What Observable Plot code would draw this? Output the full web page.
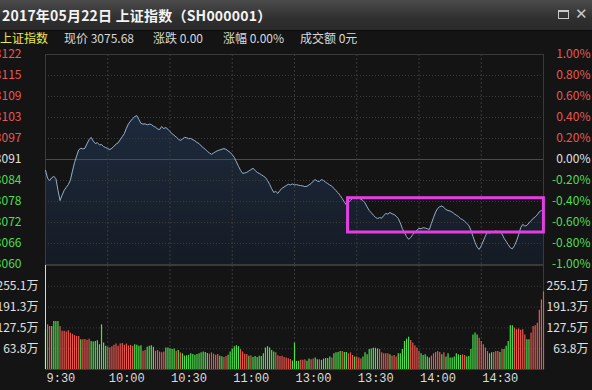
<!DOCTYPE html>
<html><head><meta charset="utf-8">
<script src="https://cdn.jsdelivr.net/npm/d3@7"></script>
<script src="https://cdn.jsdelivr.net/npm/@observablehq/plot@0.6"></script>
<style>
html,body{margin:0;padding:0;background:#141414;}
#wrap{position:relative;width:592px;height:390px;overflow:hidden;background:#141414;font-family:"Noto Sans CJK SC",sans-serif;}
#titlebar{position:absolute;left:0;top:0;width:592px;height:30px;background:linear-gradient(#4b4b4b,#303030 60%,#2a2a2a);border-bottom:1px solid #0a0a0a;}
#title{position:absolute;left:2px;top:4px;font-size:14px;font-weight:bold;color:#f4f4f4;line-height:22px;white-space:nowrap;letter-spacing:0.2px;}
.ic{position:absolute;top:10px;width:9px;height:6px;border:1px solid #c8c8c8;border-top-width:2px;}
.xx{position:absolute;top:5px;left:575px;color:#c8c8c8;font-size:15px;line-height:18px;font-family:"DejaVu Sans",sans-serif;}
#info span{position:absolute;top:30px;font-size:12px;line-height:16px;color:#d8d8d8;white-space:nowrap;}
#price{position:absolute;left:0;top:47px;}
#vol{position:absolute;left:0;top:265px;}
</style></head>
<body>
<div id="wrap">
  <div id="titlebar">
    <div id="title">2017年05月22日 上证指数（SH000001）</div>
    <div class="ic" style="left:558px"></div>
    <div class="xx">✕</div>
  </div>
  <div id="info">
    <span style="left:0;color:#e8e84c">上证指数</span>
    <span style="left:64px">现价 3075.68</span>
    <span style="left:153px">涨跌 0.00</span>
    <span style="left:223px">涨幅 0.00%</span>
    <span style="left:300px">成交额 0元</span>
  </div>
  <div id="price"></div>
  <div id="vol"></div>
</div>
<script>
// ---- data ----
const prevClose = 3090.99;
const prices = [
3087.8,3085.5,3084.8,3085.6,3086.0,3085.4,3082.0,3078.9,3080.5,3081.9,
3082.8,3083.6,3084.9,3087.6,3090.1,3092.0,3093.8,3094.3,3094.1,3094.3,
3095.6,3096.8,3097.5,3096.4,3095.7,3095.9,3095.3,3095.4,3094.8,3094.5,
3094.2,3093.9,3094.3,3094.9,3095.5,3095.9,3096.8,3097.7,3098.6,3100.2,
3101.5,3102.3,3103.0,3103.6,3103.9,3102.8,3101.6,3101.4,3101.5,3101.2,
3101.4,3101.3,3100.8,3100.5,3100.0,3099.8,3100.7,3100.1,3100.4,3099.9,
3099.2,3098.6,3098.1,3097.6,3097.0,3096.6,3097.0,3097.5,3097.4,3097.1,
3097.2,3096.8,3096.5,3096.0,3095.7,3095.0,3094.5,3094.0,3093.4,3092.9,
3092.5,3092.9,3093.3,3093.6,3093.8,3094.0,3094.2,3094.0,3093.5,3093.1,
3092.4,3091.6,3090.3,3089.0,3087.8,3086.9,3087.0,3087.2,3087.6,3088.0,
3088.4,3087.8,3087.2,3086.9,3086.5,3086.1,3085.7,3084.8,3083.7,3082.4,
3081.3,3081.6,3081.0,3081.9,3082.5,3082.9,3083.3,3083.7,3083.5,3083.8,
3083.5,3083.6,3083.4,3083.3,3083.2,3083.0,3083.1,3083.5,3083.9,3084.6,
3085.1,3084.6,3084.5,3085.1,3084.8,3084.3,3083.9,3083.5,3083.1,3082.5,
3081.8,3081.2,3080.4,3079.5,3078.5,3077.6,3078.3,3079.0,3079.5,3079.7,
3079.8,3079.6,3079.3,3078.9,3078.2,3077.0,3076.0,3075.3,3074.6,3074.0,
3073.6,3073.9,3073.7,3074.5,3075.1,3074.9,3075.4,3075.0,3074.8,3074.3,
3073.6,3072.3,3070.6,3069.5,3068.3,3067.5,3068.0,3068.9,3069.6,3070.2,
3070.7,3070.6,3070.9,3070.8,3070.6,3070.4,3072.2,3073.9,3075.5,3076.6,
3077.1,3077.3,3076.9,3076.2,3076.0,3075.8,3075.5,3075.0,3074.6,3074.2,
3073.6,3073.3,3072.8,3072.2,3071.6,3070.2,3068.4,3066.6,3065.2,3064.5,
3065.6,3067.0,3068.5,3069.6,3069.3,3069.8,3069.5,3070.0,3069.6,3069.9,
3069.1,3067.8,3066.9,3065.9,3065.0,3064.7,3065.6,3067.0,3068.8,3070.9,
3071.9,3071.4,3071.6,3072.3,3073.0,3073.6,3074.1,3074.7,3075.6,3076.0,
3075.68];
// volume in 万
const volumes = [
122,137,132,132,147,147,147,132,117,117,
115,119,111,108,104,101,101,91,91,92,
90,93,86,84,86,88,76,137,81,71,
68,66,70,74,78,71,78,80,74,78,
72,74,71,76,74,71,73,56,58,68,
71,73,68,56,58,54,51,54,66,66,
64,61,63,56,58,51,48,41,42,44,
48,46,44,46,48,51,54,52,49,47,
51,47,44,46,41,39,37,40,44,54,
63,70,73,70,61,54,47,46,41,42,
37,40,37,41,40,48,66,70,66,58,
54,51,42,40,41,37,35,33,31,26,
81,25,25,28,28,30,25,32,30,32,
35,30,30,28,32,34,34,38,35,48,
51,52,55,55,52,52,48,51,43,38,
38,35,32,38,51,45,61,63,65,65,
63,61,51,48,48,48,45,41,43,38,
48,48,61,86,93,99,89,81,73,66,
55,48,43,45,38,35,41,48,52,55,
52,45,51,38,48,35,35,38,48,45,
43,45,43,38,40,61,106,112,106,96,
86,76,66,55,48,51,52,55,55,52,
61,61,71,86,134,134,127,122,124,120,
122,106,91,91,112,132,134,142,182,213,
238];
// R = up (red), G = down (green)
const volDirs = (
"GRRGGGGRRR"+"RRRRRRRGRR"+"RRGGGGGGGG"+"RRRRRRRRRR"+"RRRGGGGRRG"+"GGGRRRRRGG"+
"GGGRGRGGGG"+"GGGGGGGGGR"+"RRRRGGRRGG"+"GGGGRRRRGR"+"GGGGGGGGGG"+"GRRRRRRRRG"+
"GGGRRRGGRR"+"GGRGGGGGRG"+"GGGRGGRRRG"+"RRRGGGGGGG"+"GRRRRRGRRR"+"GGGGGGRRRR"+
"RGGGGGRRRR"+"RGRGGGGGGG"+"GRRGGGGGGR"+"RRRRGGRRRG"+"RGGGGGRRRR"+"RRGGRRRRRR"+"R").split("");

const pctTicks = [1,0.8,0.6,0.4,0.2,0,-0.2,-0.4,-0.6,-0.8,-1];
const priceLabels = ["3122","3115","3109","3103","3097","3091","3084","3078","3072","3066","3060"];
const pctLabels = ["1.00%","0.80%","0.60%","0.40%","0.20%","0.00%","-0.20%","-0.40%","-0.60%","-0.80%","-1.00%"];
const volTicks = [255.1,191.3,127.5,63.8];
const volLabels = ["255.1万","191.3万","127.5万","63.8万"];
const volMax = 318.9;
const timeTicks = [0,30,60,90,120,150,180,210];
const timeLabels = ["9:30","10:00","10:30","11:00","13:00","13:30","14:00","14:30"];
// highlight box (annotation): minute range and price range
const boxMinutes = [145.8, 240.2];
const boxPrices = [3079.6, 3069.5];

// ---- chart ----
const RED = "#e85850", GREEN = "#4ede4e", WHITE = "#e0e0e0";
const GRID = "#3a3a3a";
const yOf = p => prevClose * (1 + p / 100);
const tickColor = p => p > 0 ? RED : p < 0 ? GREEN : WHITE;
const priceData = prices.map((p, i) => ({m: i, p}));
const volData = volumes.map((v, i) => ({m: i, v, up: volDirs[i] === "R"}));
const font = "'Noto Sans CJK SC', sans-serif";

const priceSvg = Plot.plot({
  width: 592, height: 219, marginTop: 7, marginBottom: 2, marginLeft: 45, marginRight: 49,
  x: {domain: [0, 240], axis: null},
  y: {domain: [yOf(-1), yOf(1)], axis: null},
  color: {type: "identity"},
  style: {background: "transparent", fontFamily: font, fontSize: "12px", overflow: "visible"},
  marks: [
    Plot.areaY(priceData, {x: "m", y1: yOf(-1), y2: "p", fill: "url(#pgrad)"}),
    Plot.ruleY(pctTicks.filter(p => p !== 0 && Math.abs(p) !== 1), {y: d => yOf(d), stroke: GRID, strokeDasharray: "1,2"}),
    Plot.ruleY([0], {y: d => yOf(d), stroke: "#4c4c4c"}),
    Plot.ruleX(timeTicks.slice(1), {x: d => d, stroke: GRID, strokeDasharray: "2,2"}),
    Plot.frame({stroke: GRID}),
    Plot.line(priceData, {x: "m", y: "p", stroke: "#92adc8", strokeWidth: 1}),
    Plot.rect([{x1: boxMinutes[0], x2: boxMinutes[1], y1: boxPrices[0], y2: boxPrices[1]}],
      {x1: "x1", x2: "x2", y1: "y1", y2: "y2", fill: "none", stroke: "#e23ee2", strokeWidth: 3}),
    Plot.text(pctTicks, {y: d => yOf(d), text: (d, i) => priceLabels[i], frameAnchor: "left", textAnchor: "end", dx: -24, fill: d => tickColor(d)}),
    Plot.text(pctTicks, {y: d => yOf(d), text: (d, i) => pctLabels[i], frameAnchor: "right", textAnchor: "end", dx: 47, fill: d => tickColor(d)})
  ]
});
const ns = "http://www.w3.org/2000/svg";
const defs = document.createElementNS(ns, "defs");
defs.innerHTML = '<linearGradient id="pgrad" x1="0" y1="0" x2="0" y2="1"><stop offset="0" stop-color="#1d2a3d"/><stop offset="1" stop-color="#151b24"/></linearGradient>';
priceSvg.insertBefore(defs, priceSvg.firstChild);
document.getElementById("price").appendChild(priceSvg);

const volSvg = Plot.plot({
  width: 592, height: 125, marginTop: 0, marginBottom: 21, marginLeft: 45, marginRight: 49,
  x: {domain: [0, 240], axis: null},
  y: {domain: [0, volMax], axis: null},
  color: {type: "identity"},
  style: {background: "transparent", fontFamily: font, fontSize: "12px", overflow: "visible"},
  marks: [
    Plot.ruleY(volTicks, {y: d => d, stroke: GRID, strokeDasharray: "1,2"}),
    Plot.ruleX(timeTicks.slice(1), {x: d => d, stroke: GRID, strokeDasharray: "2,2"}),
    Plot.frame({stroke: GRID}),
    Plot.ruleX(volData, {x: "m", y1: 0, y2: "v", stroke: d => d.up ? RED : GREEN, strokeWidth: 1.2}),
    Plot.ruleX([0], {x: d => d, stroke: "#d8d8d8"}),
    Plot.text(volTicks, {y: d => d, text: (d, i) => volLabels[i], frameAnchor: "left", textAnchor: "end", dx: -7, fill: WHITE}),
    Plot.text(volTicks, {y: d => d, text: (d, i) => volLabels[i], frameAnchor: "right", textAnchor: "end", dx: 45, fill: WHITE}),
    Plot.text(timeTicks, {x: d => d, text: (d, i) => timeLabels[i], frameAnchor: "bottom", dy: 12, dx: 1, textAnchor: "start", fill: "#dcdcdc", fontFamily: "'Liberation Mono', monospace", fontSize: 12})
  ]
});
document.getElementById("vol").appendChild(volSvg);
</script>
</body></html>
